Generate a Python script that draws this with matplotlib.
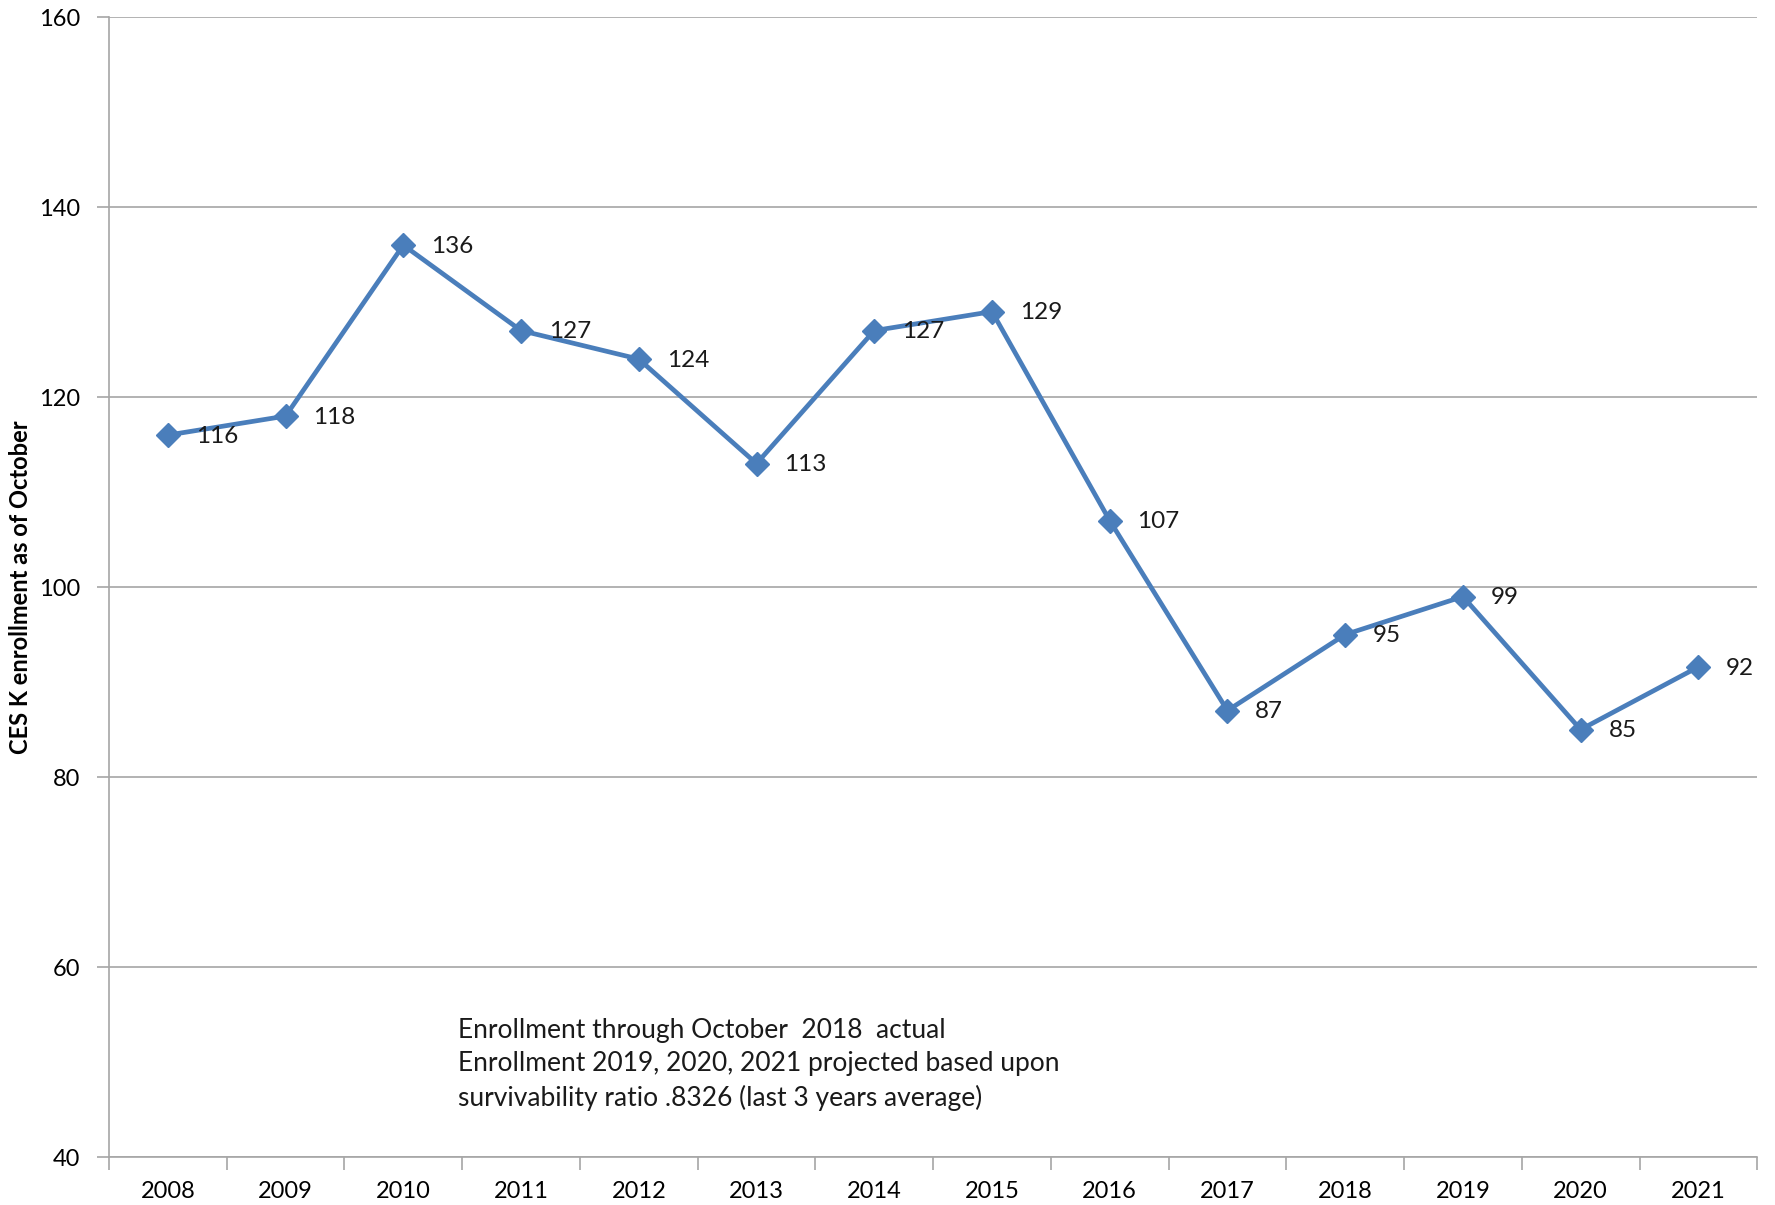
import numpy as np
import matplotlib.pyplot as plt

years = ["2008", "2009", "2010", "2011", "2012", "2013", "2014",
         "2015", "2016", "2017", "2018", "2019", "2020", "2021"]
enrollment = [116, 118, 136, 127, 124, 113, 127, 129, 107, 87, 95, 99, 85, 91.6]
yticks = [40, 60, 80, 100, 120, 140, 160]

note = ("Enrollment through October  2018  actual\n"
        "Enrollment 2019, 2020, 2021 projected based upon\n"
        "survivability ratio .8326 (last 3 years average)")

plt.rcParams['font.family'] = ['Lato', 'DejaVu Sans']
line_color = "#4a7ebb"
grid_color = "#a6a6a6"

fig = plt.figure(figsize=(17.75, 12.05), dpi=100)
ax = fig.add_axes([0.0614, 0.0398, 0.9286, 0.946])

xs = np.arange(len(years))
ax.plot(xs, enrollment, color=line_color, linewidth=3.4, marker="D",
        markersize=12, zorder=3)
for x, v in zip(xs, enrollment):
    ax.annotate("%.0f" % v, (x, v), xytext=(20, -1), textcoords="offset points",
                va="center", ha="left", fontsize=17.5, color="#1a1a1a")

ax.set_xlim(-0.5, len(years) - 0.5)
ax.set_ylim(40, 160)
ax.set_yticks(yticks)
ax.yaxis.grid(True, color=grid_color, linewidth=1.2)
ax.set_axisbelow(True)

# categories sit between the tick marks, Excel style
ax.set_xticks(np.arange(-0.5, len(years)), minor=False)
ax.set_xticklabels([])
ax.set_xticks(xs, minor=True)
ax.set_xticklabels(years, minor=True)
ax.tick_params(axis="x", which="major", length=9, color=grid_color, width=1.2)
ax.tick_params(axis="x", which="minor", length=0, labelsize=17, pad=17)
ax.tick_params(axis="y", length=9, color=grid_color, width=1.2, labelsize=17, pad=12)

for side in ["top", "right"]:
    ax.spines[side].set_visible(False)
for side in ["left", "bottom"]:
    ax.spines[side].set_color(grid_color)
    ax.spines[side].set_linewidth(1.2)

fig.text(0.0115, 0.513, "CES K enrollment as of October", rotation=90,
         ha="center", va="center", fontsize=17, fontweight="bold")

ax.text(0.212, 0.122, note, transform=ax.transAxes, fontsize=19, va="top",
        ha="left", linespacing=1.4, color="#1a1a1a")

fig.savefig("out.png")
